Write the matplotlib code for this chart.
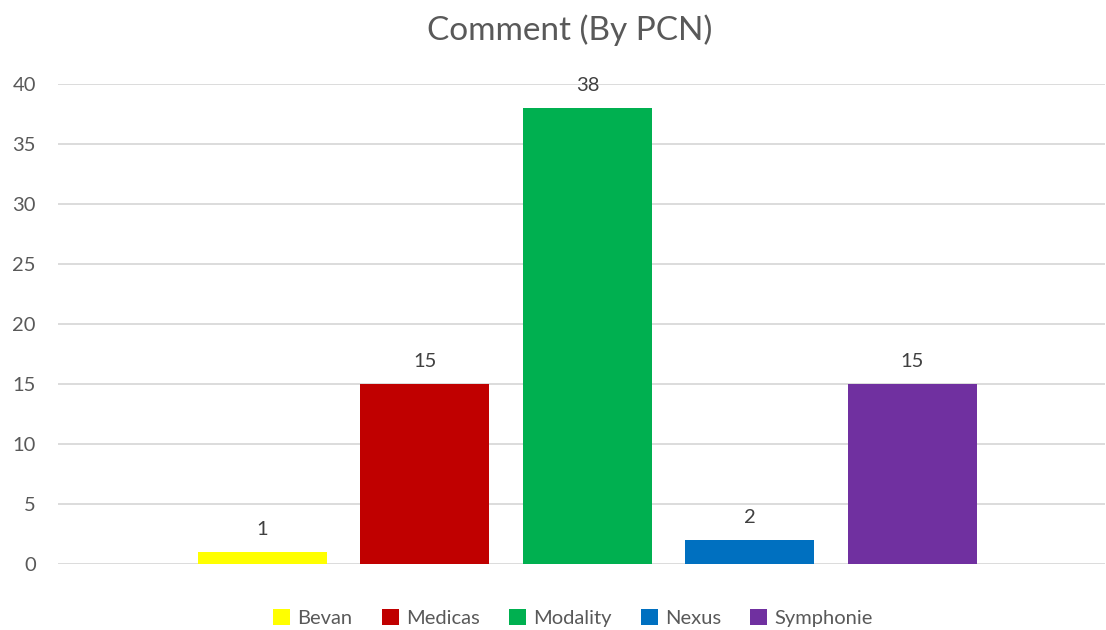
import matplotlib
matplotlib.use("Agg")
import matplotlib.pyplot as plt

series = ["Bevan", "Medicas", "Modality", "Nexus", "Symphonie"]
values = [1, 15, 38, 2, 15]
colors = ["#FFFF00", "#C00000", "#00B050", "#0070C0", "#7030A0"]
yticks = [0, 5, 10, 15, 20, 25, 30, 35, 40]
title = "Comment (By PCN)"

plt.rcParams['font.family'] = ['Lato', 'DejaVu Sans']
txt = "#595959"

fig = plt.figure(figsize=(11.06, 6.3), dpi=100)
ax = fig.add_axes([58/1106, 1-564/630, (1105-58)/1106, (564-84)/630])

pos = list(range(len(series)))
for i, (s, v, c) in enumerate(zip(series, values, colors)):
    ax.bar(pos[i], v, width=0.794, color=c, label=s, zorder=3)
    ax.annotate(str(v), (pos[i], v), xytext=(0, 10), textcoords="offset points",
                ha="center", va="bottom", fontsize=14.5, color="#404040")

ax.set_xlim(-1.258, 5.185)
ax.set_ylim(0, 40)
ax.set_yticks(yticks)
ax.set_xticks([])
ax.yaxis.grid(True, color="#d9d9d9", linewidth=1.3, zorder=0)
ax.set_axisbelow(True)
for sp in ax.spines.values():
    sp.set_visible(False)
ax.tick_params(axis="y", length=0, pad=16, labelsize=14.5, labelcolor=txt)

fig.text(570/1106, 1-30/630, title, ha="center", va="center", fontsize=24, color=txt)

leg = fig.legend(loc="center", bbox_to_anchor=(573/1106, 1-618/630), ncol=5, frameon=False,
                 fontsize=14.5, handlelength=0.85, handleheight=0.85, handletextpad=0.35,
                 columnspacing=1.45)
for t in leg.get_texts():
    t.set_color(txt)

fig.savefig("out.png", dpi=100, facecolor="white")
